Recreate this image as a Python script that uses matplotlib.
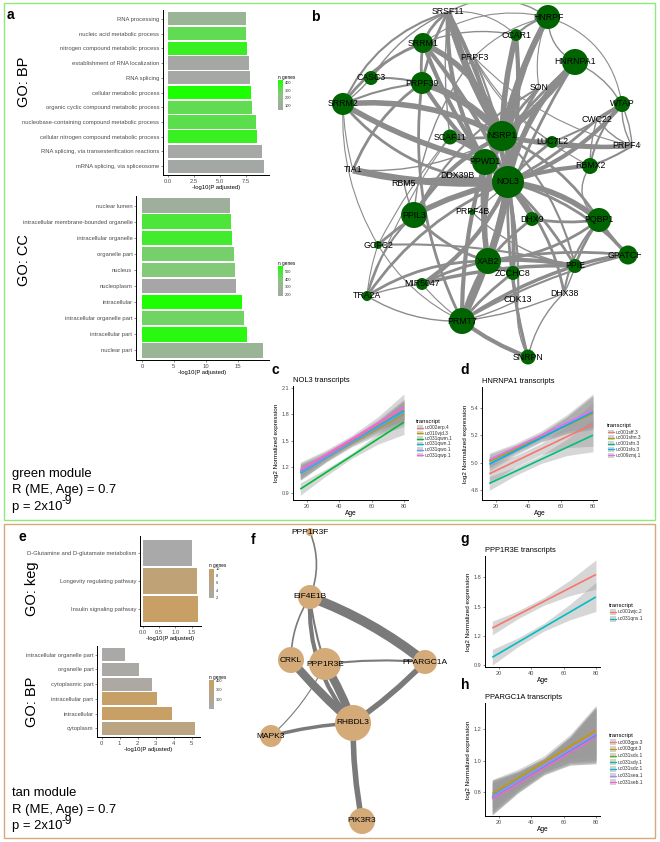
import numpy as np
import matplotlib
matplotlib.use('Agg')
import matplotlib.pyplot as plt
from matplotlib.colors import LinearSegmentedColormap, Normalize
from matplotlib.path import Path
from matplotlib.patches import PathPatch, Circle, Rectangle

plt.rcParams['font.family'] = ['Liberation Sans', 'DejaVu Sans']
plt.rcParams['mathtext.default'] = 'regular'

W, H = 660, 842
fig = plt.figure(figsize=(6.6, 8.42), dpi=100)

# ------------------------------------------------------------------ data
bp_terms = ['RNA processing', 'nucleic acid metabolic process', 'nitrogen compound metabolic process',
            'establishment of RNA localization', 'RNA splicing', 'cellular metabolic process',
            'organic cyclic compound metabolic process', 'nucleobase-containing compound metabolic process',
            'cellular nitrogen compound metabolic process', 'RNA splicing, via transesterification reactions',
            'mRNA splicing, via spliceosome']
bp_logp = [7.5, 7.5, 7.65, 7.8, 7.85, 8.0, 8.05, 8.5, 8.55, 9.07, 9.26]
bp_ngenes = [150, 320, 390, 60, 62, 440, 320, 330, 390, 62, 65]

cc_terms = ['nuclear lumen', 'intracellular membrane-bounded organelle', 'intracellular organelle',
            'organelle part', 'nucleus', 'nucleoplasm', 'intracellular', 'intracellular organelle part',
            'intracellular part', 'nuclear part']
cc_logp = [13.8, 14.0, 14.2, 14.5, 14.65, 14.75, 15.75, 16.0, 16.5, 19.0]
cc_ngenes = [250, 490, 510, 420, 400, 190, 575, 430, 555, 285]

keg_terms = ['D-Glutamine and D-glutamate metabolism', 'Longevity regulating pathway', 'Insulin signaling pathway']
keg_logp = [1.52, 1.67, 1.70]
keg_ngenes = [2, 8, 10]

tbp_terms = ['intracellular organelle part', 'organelle part', 'cytoplasmic part',
             'intracellular part', 'intracellular', 'cytoplasm']
tbp_logp = [1.28, 2.1, 2.78, 3.05, 3.9, 5.2]
tbp_ngenes = [255, 260, 270, 400, 405, 340]

fit_ages = [16, 80]
ci_ages = [16, 32, 48, 64, 80]

c_names = ['uc002erp.4', 'uc010vjd.3', 'uc031qwm.1', 'uc031qwn.1', 'uc031qwo.1', 'uc031qwp.1']
c_fits = [(1.16, 1.85), (1.14, 1.80), (0.95, 1.71), (1.13, 1.84), (1.14, 1.82), (1.165, 1.88)]
c_ci = [[0.08, 0.045, 0.035, 0.06, 0.12], [0.09, 0.05, 0.04, 0.07, 0.14],
        [0.07, 0.04, 0.03, 0.06, 0.14], [0.08, 0.045, 0.035, 0.06, 0.12],
        [0.08, 0.045, 0.035, 0.065, 0.13], [0.09, 0.05, 0.04, 0.07, 0.15]]

d_names = ['uc001sff.3', 'uc001sfm.3', 'uc001sfn.3', 'uc001sfo.3', 'uc009zmj.1']
d_fits = [(4.92, 5.28), (5.01, 5.36), (4.85, 5.20), (4.99, 5.37), (5.02, 5.38)]
d_ci = [[0.07, 0.04, 0.04, 0.08, 0.16], [0.05, 0.03, 0.03, 0.06, 0.12],
        [0.05, 0.03, 0.03, 0.06, 0.12], [0.05, 0.03, 0.03, 0.06, 0.12],
        [0.05, 0.03, 0.03, 0.06, 0.12]]

g_names = ['uc001wjc.2', 'uc031qns.1']
g_fits = [(1.28, 1.83), (0.98, 1.60)]
g_ci = [[0.07, 0.04, 0.04, 0.08, 0.15], [0.08, 0.045, 0.04, 0.08, 0.15]]

h_names = ['uc003gps.3', 'uc003gpt.3', 'uc031sdx.1', 'uc031sdy.1', 'uc031sdz.1', 'uc031sea.1', 'uc031seb.1']
h_fits = [(0.77, 1.17), (0.79, 1.19), (0.76, 1.16), (0.765, 1.16), (0.775, 1.165), (0.77, 1.17), (0.755, 1.15)]
h_ci = [[0.10, 0.06, 0.045, 0.08, 0.17], [0.09, 0.055, 0.04, 0.075, 0.16],
        [0.10, 0.06, 0.045, 0.08, 0.17], [0.11, 0.065, 0.05, 0.09, 0.18],
        [0.10, 0.06, 0.045, 0.08, 0.17], [0.09, 0.055, 0.04, 0.075, 0.16],
        [0.10, 0.06, 0.045, 0.08, 0.17]]

# network b: nodes (layout in pixel space) and weighted edges
pos_b = {'SRSF11': (448, 12), 'HNRPF': (548, 17), 'CCAR1': (516, 35), 'SRRM1': (423, 43),
         'PRPF3': (474, 57), 'HNRNPA1': (575, 62), 'CASC3': (371, 78), 'PRPF39': (422, 83),
         'SON': (539, 88), 'SRRM2': (343, 104), 'WTAP': (622, 104), 'CWC22': (597, 119),
         'SCAF11': (450, 137), 'NSRP1': (502, 136), 'LUC7L2': (552, 142), 'PRPF40A': (632, 146),
         'PPWD1': (485, 162), 'RBMX2': (590, 166), 'TIA1': (353, 170), 'DDX39B': (457, 176),
         'NOL3': (508, 182), 'RBM5': (404, 183), 'PPIL3': (414, 215), 'PRPF4B': (472, 212),
         'DHX9': (532, 219), 'PQBP1': (599, 220), 'GCFC2': (378, 245), 'GPATCH8': (628, 255),
         'XAB2': (488, 261), 'PPIE': (575, 266), 'ZCCHC8': (513, 273), 'MIR5047': (422, 284),
         'DHX38': (564, 293), 'TRA2A': (367, 296), 'CDK13': (518, 300), 'PRMT7': (462, 321),
         'SNRPN': (528, 357)}
rad_b = {'SRSF11': 0, 'HNRPF': 12, 'CCAR1': 6, 'SRRM1': 10, 'PRPF3': 0, 'HNRNPA1': 13,
         'CASC3': 7, 'PRPF39': 11, 'SON': 0, 'SRRM2': 11, 'WTAP': 8, 'CWC22': 0, 'SCAF11': 7.5,
         'NSRP1': 15, 'LUC7L2': 6, 'PRPF40A': 0, 'PPWD1': 13, 'RBMX2': 8, 'TIA1': 0, 'DDX39B': 0,
         'NOL3': 16, 'RBM5': 0, 'PPIL3': 13, 'PRPF4B': 3, 'DHX9': 7, 'PQBP1': 12, 'GCFC2': 4,
         'GPATCH8': 9.5, 'XAB2': 13, 'PPIE': 7, 'ZCCHC8': 7, 'MIR5047': 6, 'DHX38': 0,
         'TRA2A': 5, 'CDK13': 0, 'PRMT7': 13, 'SNRPN': 7.5}
edges_b = [
    ('SRSF11', 'NSRP1', 5, 0.05), ('SRSF11', 'PPWD1', 3, 0.1), ('SRSF11', 'NOL3', 3, -0.05),
    ('SRSF11', 'SRRM1', 2, 0.1), ('SRSF11', 'PRPF39', 2, 0.05), ('SRSF11', 'SRRM2', 1.5, 0.15),
    ('SRSF11', 'CASC3', 1, 0.1), ('SRSF11', 'SCAF11', 1, 0), ('SRSF11', 'HNRPF', 1, -0.2),
    ('SRSF11', 'CCAR1', 0.8, -0.15),
    ('HNRPF', 'NSRP1', 4, 0.05), ('HNRPF', 'NOL3', 4, 0.1), ('HNRPF', 'CCAR1', 1.5, 0.1),
    ('HNRPF', 'HNRNPA1', 1, 0.2), ('HNRPF', 'SON', 0.8, 0.1), ('HNRPF', 'WTAP', 0.8, -0.2),
    ('HNRPF', 'PRPF3', 0.8, 0.1), ('HNRPF', 'SRRM1', 0.8, 0.15),
    ('CCAR1', 'NSRP1', 4, 0), ('CCAR1', 'NOL3', 3, -0.05), ('CCAR1', 'SRRM1', 1, 0.1),
    ('HNRNPA1', 'NSRP1', 4, -0.05), ('HNRNPA1', 'NOL3', 4, 0.1), ('HNRNPA1', 'XAB2', 2, 0.05),
    ('HNRNPA1', 'PPWD1', 2, 0), ('HNRNPA1', 'PRPF40A', 1, -0.2),
    ('SRRM1', 'NSRP1', 4, -0.15), ('SRRM1', 'NOL3', 3, -0.05), ('SRRM1', 'PPWD1', 3, 0),
    ('SRRM1', 'PRPF39', 2, 0), ('SRRM1', 'SRRM2', 2, 0.1), ('SRRM1', 'CASC3', 1, 0.1),
    ('PRPF39', 'NSRP1', 5, -0.1), ('PRPF39', 'NOL3', 3, 0.05), ('PRPF39', 'CASC3', 1.5, 0.05),
    ('PRPF39', 'SRRM2', 1.5, 0.05), ('PRPF39', 'TIA1', 2, 0.1), ('PRPF39', 'PRMT7', 2, 0.1),
    ('SRRM2', 'NSRP1', 4, -0.1), ('SRRM2', 'PPWD1', 4, 0.05), ('SRRM2', 'NOL3', 2, 0.15),
    ('SRRM2', 'CASC3', 1, 0), ('SRRM2', 'TIA1', 0.8, 0), ('SRRM2', 'GCFC2', 0.8, 0.1),
    ('TIA1', 'NOL3', 5, 0.05), ('TIA1', 'NSRP1', 1, 0.1),
    ('SCAF11', 'NOL3', 3, -0.1), ('SCAF11', 'NSRP1', 2, 0), ('SCAF11', 'TRA2A', 0.8, 0.05),
    ('SCAF11', 'GCFC2', 0.8, 0),
    ('PRPF3', 'NSRP1', 1.5, 0), ('PRPF3', 'NOL3', 1.5, -0.05), ('PRPF3', 'PRPF40A', 0.8, 0.1),
    ('PRPF3', 'RBMX2', 0.8, 0.1), ('PRPF3', 'LUC7L2', 0.8, 0.1), ('PRPF3', 'PPIL3', 1, 0.1),
    ('SON', 'NSRP1', 2, 0.05), ('SON', 'NOL3', 2, 0.1), ('SON', 'PPIL3', 1.5, 0.1),
    ('NSRP1', 'LUC7L2', 3, 0), ('NSRP1', 'PRPF40A', 3, 0.05), ('NSRP1', 'PQBP1', 2, -0.1),
    ('NSRP1', 'XAB2', 4, 0.1), ('NSRP1', 'PPIL3', 3, 0.1),
    ('LUC7L2', 'PRPF40A', 3, 0), ('LUC7L2', 'NOL3', 2, 0),
    ('WTAP', 'CWC22', 1.5, 0), ('WTAP', 'NOL3', 3, -0.1), ('WTAP', 'RBMX2', 1.5, 0.1),
    ('WTAP', 'PRPF40A', 1, 0.1), ('WTAP', 'LUC7L2', 1.5, -0.05),
    ('CWC22', 'NOL3', 2, -0.05), ('CWC22', 'PRPF40A', 1, 0.1), ('CWC22', 'RBMX2', 1, 0.05),
    ('RBMX2', 'NOL3', 3, 0.05), ('RBMX2', 'PRPF40A', 1.5, 0), ('RBMX2', 'PQBP1', 1, 0.3),
    ('PPWD1', 'NOL3', 4, 0), ('PPWD1', 'XAB2', 3, 0.05), ('PPWD1', 'PRMT7', 3, 0.05),
    ('PPWD1', 'DHX9', 2, -0.05),
    ('DDX39B', 'NOL3', 2, 0), ('RBM5', 'NOL3', 3, -0.05), ('RBM5', 'PPIL3', 1, 0),
    ('PPIL3', 'NOL3', 4, -0.05), ('PPIL3', 'TRA2A', 1.5, 0.1), ('PPIL3', 'XAB2', 2, 0.1),
    ('PRPF4B', 'NOL3', 1, 0), ('PRPF4B', 'PPIE', 1, 0.1),
    ('DHX9', 'NOL3', 3, 0), ('DHX9', 'PQBP1', 2, 0.05), ('DHX9', 'XAB2', 2, 0),
    ('PQBP1', 'NOL3', 4, 0.1), ('PQBP1', 'GPATCH8', 2.5, 0), ('PQBP1', 'PPIE', 2, 0.05),
    ('PQBP1', 'DHX38', 1.5, 0.1), ('PQBP1', 'XAB2', 2, -0.1),
    ('GPATCH8', 'PPIE', 2.5, 0), ('GPATCH8', 'NOL3', 2, 0.1), ('GPATCH8', 'XAB2', 2, 0.05),
    ('GPATCH8', 'PRMT7', 1.5, 0.05),
    ('GCFC2', 'NOL3', 2, -0.1), ('GCFC2', 'PPIE', 1.5, -0.05), ('GCFC2', 'TRA2A', 0.8, 0),
    ('GCFC2', 'PRMT7', 0.8, 0.1),
    ('XAB2', 'NOL3', 5, 0), ('XAB2', 'PRMT7', 4, 0), ('XAB2', 'ZCCHC8', 2, 0),
    ('XAB2', 'PPIE', 3, -0.05), ('XAB2', 'MIR5047', 2, 0.05), ('XAB2', 'TRA2A', 2, 0.1),
    ('ZCCHC8', 'NOL3', 3, 0), ('ZCCHC8', 'SNRPN', 2, 0), ('ZCCHC8', 'PRMT7', 2, 0),
    ('ZCCHC8', 'CDK13', 1, 0),
    ('MIR5047', 'NOL3', 3, 0.1), ('MIR5047', 'PPIE', 2.5, -0.05), ('MIR5047', 'PRMT7', 0.8, 0),
    ('MIR5047', 'TRA2A', 1, 0),
    ('TRA2A', 'NOL3', 2, -0.1), ('TRA2A', 'PRMT7', 1, 0.1),
    ('PRMT7', 'NOL3', 4, 0.05), ('PRMT7', 'SNRPN', 3, 0.05), ('PRMT7', 'PPIE', 2.5, -0.05),
    ('PRMT7', 'DHX38', 1, 0.05), ('PRMT7', 'CDK13', 1, 0),
    ('DHX38', 'NOL3', 2, 0.1), ('DHX38', 'PPIE', 1, 0), ('DHX38', 'SNRPN', 1, 0.1),
    ('CDK13', 'NOL3', 1.5, 0), ('CDK13', 'SNRPN', 1, 0.1),
    ('SNRPN', 'NOL3', 2, -0.05), ('PPIE', 'NOL3', 2, 0.05), ('PPIE', 'NSRP1', 1.5, 0.1),
]

pos_f = {'PPP1R3F': (310, 532), 'EIF4E1B': (310, 597), 'CRKL': (291, 660), 'PPP1R3E': (325, 664),
         'PPARGC1A': (425, 662), 'RHBDL3': (353, 723), 'MAPK3': (271, 736), 'PIK3R3': (362, 821)}
rad_f = {'PPP1R3F': 4, 'EIF4E1B': 12, 'CRKL': 13, 'PPP1R3E': 16, 'PPARGC1A': 12,
         'RHBDL3': 18, 'MAPK3': 11, 'PIK3R3': 13}
edges_f = [('PPP1R3F', 'EIF4E1B', 1.2, -0.2), ('EIF4E1B', 'PPARGC1A', 7, -0.08),
           ('EIF4E1B', 'CRKL', 1.2, 0.15), ('EIF4E1B', 'PPP1R3E', 1.5, 0.05),
           ('EIF4E1B', 'RHBDL3', 3, 0.2), ('CRKL', 'RHBDL3', 6, 0), ('PPP1R3E', 'RHBDL3', 6, -0.05),
           ('PPP1R3E', 'PPARGC1A', 1.5, -0.05), ('PPARGC1A', 'RHBDL3', 4, -0.05),
           ('MAPK3', 'RHBDL3', 2.5, -0.05), ('MAPK3', 'PPP1R3E', 0.8, 0.1),
           ('RHBDL3', 'PIK3R3', 4, 0.05)]

# ------------------------------------------------------------------ helpers
def ax_px(l, t, r, b, **kw):
    return fig.add_axes([l / W, 1 - b / H, (r - l) / W, (b - t) / H], **kw)


def style(ax, fs=4.0):
    ax.set_facecolor('none')
    for s in ['top', 'right']:
        ax.spines[s].set_visible(False)
    for s in ['left', 'bottom']:
        ax.spines[s].set_linewidth(0.7)
        ax.spines[s].set_color('black')
    ax.tick_params(length=1.6, width=0.4, color='#333333', labelsize=fs,
                   labelcolor='#4d4d4d', pad=1)


green_cmap = LinearSegmentedColormap.from_list('gg', ['#a6a6a6', '#8cc484', '#1cff00'])
tan_cmap = LinearSegmentedColormap.from_list('tt', ['#a9a9a9', '#c8a066'])


def go_panel(box, terms, vals, ngenes, cmap, vmin, vmax, xticks, xticklabels):
    ax = ax_px(*box)
    n = len(terms)
    y = np.arange(n)
    norm = Normalize(vmin, vmax)
    ax.barh(y, vals, height=0.9, color=cmap(norm(np.array(ngenes, float))), edgecolor='none')
    ax.set_ylim(n - 0.4, -0.6)
    mx = max(vals)
    ax.set_xlim(-0.05 * mx, 1.05 * mx)
    ax.set_yticks(y)
    ax.set_yticklabels(terms)
    ax.set_xticks(xticks)
    ax.set_xticklabels(xticklabels)
    style(ax, 4.2)
    ax.set_xlabel('-log10(P adjusted)', fontsize=4.2, labelpad=1, color='black')
    return ax


def trend_panel(box, title, fits, ci, names, colors, ylim, yticks, yticklabels):
    ax = ax_px(*box)
    for fit, hw in zip(fits, ci):
        ctr = np.interp(ci_ages, fit_ages, fit)
        hw = np.array(hw)
        ax.fill_between(ci_ages, ctr - hw, ctr + hw, color='#999999', alpha=0.4, lw=0)
    for fit, col in zip(fits, colors):
        ax.plot(fit_ages, fit, color=col, lw=1.2, solid_capstyle='butt')
    ax.set_xlim(11.5, 82.5)
    ax.set_ylim(*ylim)
    ax.set_xticks([20, 40, 60, 80])
    ax.set_yticks(yticks)
    ax.set_yticklabels(yticklabels)
    style(ax, 4.0)
    ax.set_xlabel('Age', fontsize=4.8, labelpad=1)
    ax.set_ylabel('log2 Normalized expression', fontsize=4.6, labelpad=2)
    ax.set_title(title, fontsize=5.4, loc='left', pad=3)
    return ax


def draw_network(ax, pos, rads, edges, ecol, ncol, fs, bend=1.0):
    for u, v, w, rad in edges:
        (x1, y1), (x2, y2) = pos[u], pos[v]
        mx, my = (x1 + x2) / 2, (y1 + y2) / 2
        dx, dy = x2 - x1, y2 - y1
        r = rad * bend if rad != 0 else 0.04 * bend
        cx, cy = mx - r * dy, my + r * dx
        p = Path([(x1, y1), (cx, cy), (x2, y2)], [Path.MOVETO, Path.CURVE3, Path.CURVE3])
        ax.add_patch(PathPatch(p, fc='none', ec=ecol, lw=w, capstyle='butt', zorder=1))
    for k, (x, y) in pos.items():
        if rads[k] > 0:
            ax.add_patch(Circle((x, y), rads[k], fc=ncol, ec='none', zorder=2))
        ax.text(x, y, k, fontsize=fs, ha='center', va='center', zorder=3, clip_on=True)


# ------------------------------------------------------------------ panel a / e (GO bars)
go_panel((163, 10, 269, 175), bp_terms, bp_logp, bp_ngenes, green_cmap, 50, 440,
         [0, 2.5, 5, 7.5], ['0.0', '2.5', '5.0', '7.5'])
go_panel((136, 196, 269, 360), cc_terms, cc_logp, cc_ngenes, green_cmap, 187, 578,
         [0, 5, 10, 15], ['0', '5', '10', '15'])
go_panel((140, 536, 201, 626), keg_terms, keg_logp, keg_ngenes, tan_cmap, 2, 10,
         [0, 0.5, 1.0, 1.5], ['0.0', '0.5', '1.0', '1.5'])
go_panel((97, 646, 200, 737), tbp_terms, tbp_logp, tbp_ngenes, tan_cmap, 252, 405,
         [0, 1, 2, 3, 4, 5], ['0', '1', '2', '3', '4', '5'])

# ------------------------------------------------------------------ networks
axb = ax_px(290, 3, 641, 368)
axb.set_xlim(290, 641)
axb.set_ylim(368, 3)
axb.axis('off')
draw_network(axb, pos_b, rad_b, edges_b, '#8c8c8c', '#006400', 6.3, bend=1.5)

axf = ax_px(232, 526, 478, 836)
axf.set_xlim(232, 478)
axf.set_ylim(836, 526)
axf.axis('off')
draw_network(axf, pos_f, rad_f, edges_f, '#7a7a7a', '#d4aa78', 6.0)

# ------------------------------------------------------------------ trend panels
hue6 = ['#F8766D', '#B79F00', '#00BA38', '#00BFC4', '#619CFF', '#F564E3']
hue5 = ['#F8766D', '#A3A500', '#00BF7D', '#00B0F6', '#E76BF3']
hue2 = ['#F8766D', '#00BFC4']
hue7 = ['#F8766D', '#C49A00', '#53B400', '#00C094', '#00B6EB', '#A58AFF', '#FB61D7']

trend_panel((293, 386, 408, 500), 'NOL3 transcripts', c_fits, c_ci, c_names, hue6,
            (0.826, 2.12), [0.9, 1.2, 1.5, 1.8, 2.1], ['0.9', '1.2', '1.5', '1.8', '2.1'])
trend_panel((482, 387, 597, 500), 'HNRNPA1 transcripts', d_fits, d_ci, d_names, hue5,
            (4.73, 5.55), [4.8, 5.0, 5.2, 5.4], ['4.8', '5.0', '5.2', '5.4'])
trend_panel((485, 556, 600, 667), 'PPP1R3E transcripts', g_fits, g_ci, g_names, hue2,
            (0.88, 2.02), [0.9, 1.2, 1.5, 1.8], ['0.9', '1.2', '1.5', '1.8'])
trend_panel((485, 703, 600, 816), 'PPARGC1A transcripts', h_fits, h_ci, h_names, hue7,
            (0.648, 1.365), [0.8, 1.0, 1.2], ['0.8', '1.0', '1.2'])

# ------------------------------------------------------------------ overlay (pixel coords)
ov = fig.add_axes([0, 0, 1, 1])
ov.set_facecolor('none')
ov.axis('off')


def line_legend(x, y_title, y0, dy, names, colors):
    ov.text(x - 1, y_title, 'transcript', fontsize=4.3, va='center', ha='left')
    for i, (nm, col) in enumerate(zip(names, colors)):
        yy = y0 + i * dy
        ov.add_patch(Rectangle((x, yy - dy / 2 + 0.5), 6, dy - 1, fc='#d4d4d4', ec='none'))
        ov.plot([x + 0.3, x + 5.7], [yy, yy], color=col, lw=0.9)
        ov.text(x + 7.5, yy, nm, fontsize=3.5, va='center', ha='left', color='#333333')


line_legend(417, 422, 427.5, 5.5, c_names, hue6)
line_legend(608, 425, 432, 5.8, d_names, hue5)
line_legend(610, 605, 611.5, 7.0, g_names, hue2)
line_legend(610, 736, 742.3, 6.67, h_names, hue7)


def cbar_legend(x, y0, y1, cmap, vmin, vmax, ticks, title_y):
    grad = np.linspace(vmax, vmin, 100)[:, None]
    ov.imshow(grad, cmap=cmap, vmin=vmin, vmax=vmax, extent=(x, x + 5, y1, y0),
              aspect='auto', interpolation='bilinear')
    ov.text(x, title_y, 'n genes', fontsize=3.4, ha='left', va='center')
    for t in ticks:
        yy = y1 - (t - vmin) / (vmax - vmin) * (y1 - y0)
        ov.text(x + 6.5, yy, str(t), fontsize=2.9, ha='left', va='center', color='#333333')


cbar_legend(278, 80, 110, green_cmap, 50, 440, [100, 200, 300, 400], 77)
cbar_legend(278, 266, 296, green_cmap, 187, 578, [200, 300, 400, 500], 263)
cbar_legend(209, 569, 598, tan_cmap, 2, 10, [2, 4, 6, 8, 10], 565.5)
cbar_legend(209, 680, 709, tan_cmap, 252, 405, [300, 350, 400], 677)

# borders
ov.add_patch(Rectangle((4, 2.5), 651, 517.5, fill=False, ec='#93e87a', lw=1.0))
ov.add_patch(Rectangle((4, 524), 651, 314, fill=False, ec='#d6a87f', lw=1.0))

# GO facet labels
for txt, x, y in [('GO: BP', 24, 82), ('GO: CC', 24, 260), ('GO: keg', 32, 589), ('GO: BP', 32, 702)]:
    ov.text(x, y, txt, fontsize=10.5, rotation=90, ha='center', va='center')

# panel letters
for txt, x, y in [('a', 10, 15), ('b', 315, 17), ('c', 275, 370), ('d', 465, 370),
                  ('e', 22, 537), ('f', 253, 540), ('g', 465, 539), ('h', 465, 685)]:
    ov.text(x, y, txt, fontsize=10, fontweight='bold', ha='center', va='center')

ov.set_xlim(0, W)
ov.set_ylim(H, 0)

# module annotations
renderer = fig.canvas.get_renderer()
for y0, name in [(474, 'green module'), (793, 'tan module')]:
    ov.text(12, y0, name, fontsize=9.4, ha='left', va='center')
    ov.text(12, y0 + 16.5, 'R (ME, Age) = 0.7', fontsize=9.4, ha='left', va='center')
    tp = ov.text(12, y0 + 33, 'p = 2x10', fontsize=9.4, ha='left', va='center')
    bb = tp.get_window_extent(renderer=renderer)
    xend = bb.x1  # display pixels == figure pixels at dpi 100
    ov.text(xend - 0.8, y0 + 27.5, '-9', fontsize=8.6, ha='left', va='center')

fig.savefig('out.png', dpi=100)
